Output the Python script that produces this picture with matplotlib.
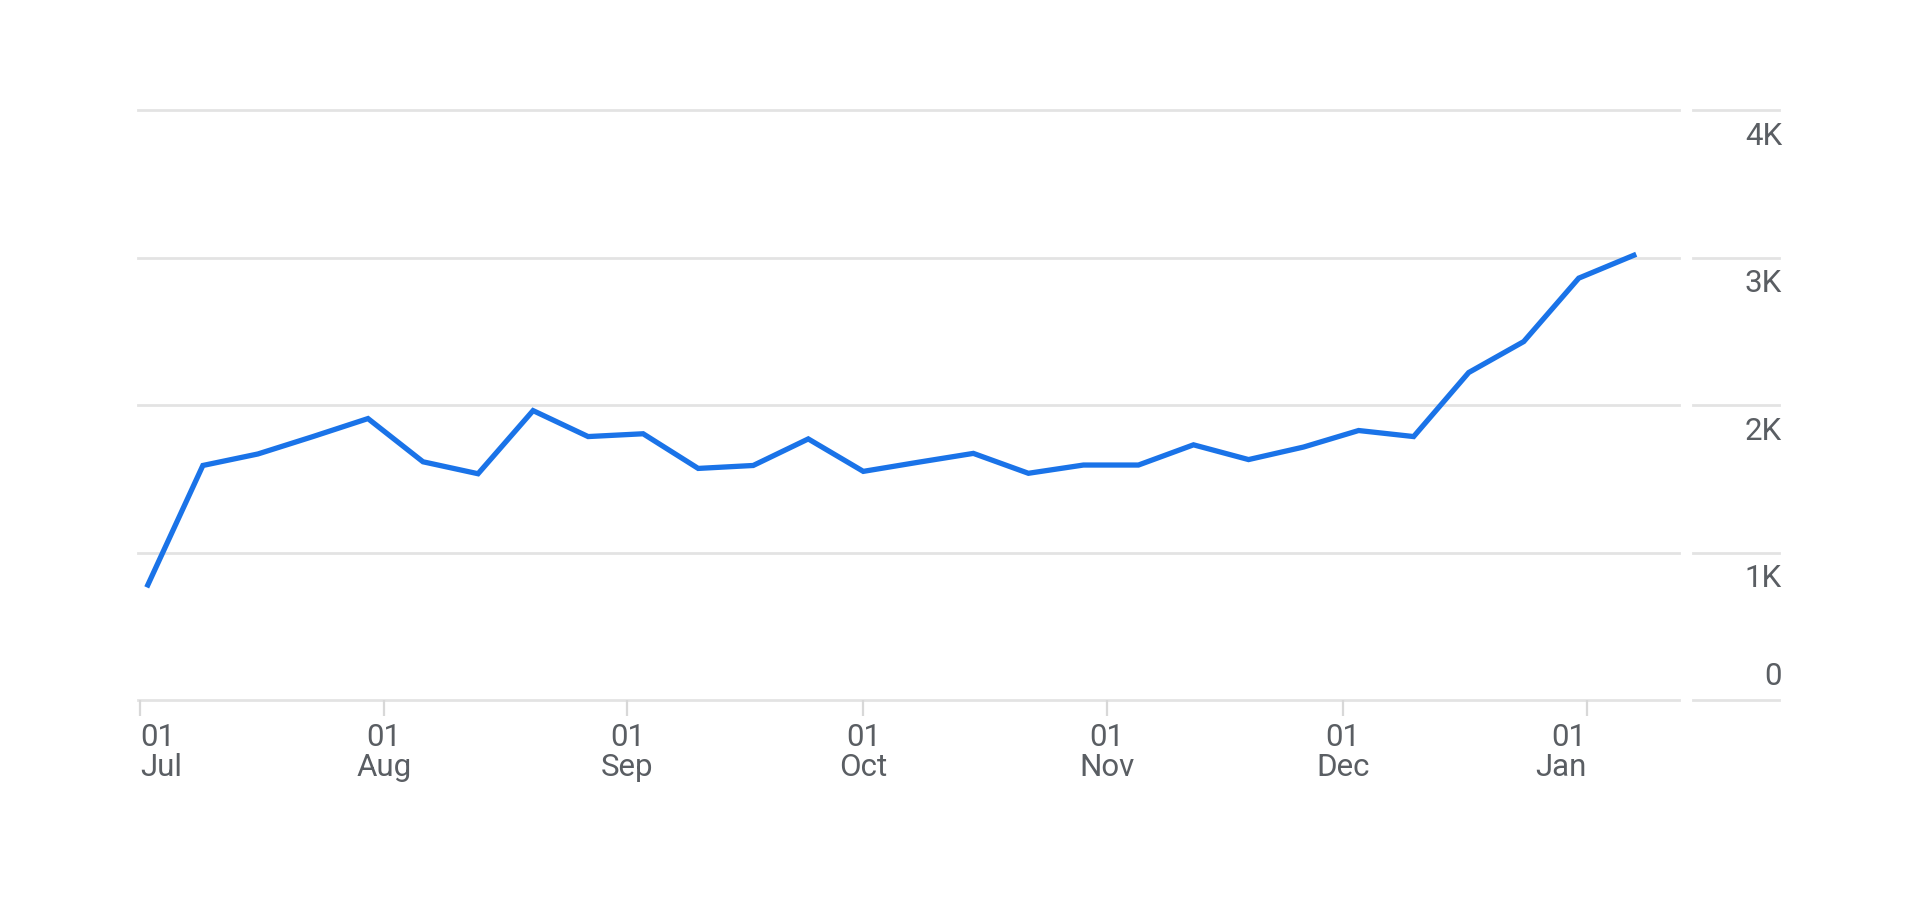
import matplotlib
matplotlib.use("Agg")
import matplotlib.pyplot as plt
import matplotlib.dates as mdates
import matplotlib.transforms as mtrans
import numpy as np
import pandas as pd

# weekly values
weeks = pd.date_range("2023-07-02", periods=28, freq="7D")
values = [780, 1590, 1668, 1786, 1908, 1615, 1534, 1962, 1786, 1805,
          1570, 1590, 1770, 1550, 1612, 1672, 1537, 1593, 1593, 1730,
          1630, 1715, 1827, 1786, 2220, 2430, 2860, 3015]

tick_dates = pd.to_datetime(["2023-07-01", "2023-08-01", "2023-09-01", "2023-10-01",
                             "2023-11-01", "2023-12-01", "2024-01-01"])
tick_labels = ["01\nJul", "01\nAug", "01\nSep", "01\nOct", "01\nNov", "01\nDec", "01\nJan"]
y_ticks = [0, 1000, 2000, 3000, 4000]
y_labels = ["0", "1K", "2K", "3K", "4K"]

plt.rcParams["font.family"] = ["Roboto", "DejaVu Sans"]
GRID = "#e3e3e3"
TXT = "#5a5e63"
BLUE = "#1a73e8"

W, H = 1920, 913
fig = plt.figure(figsize=(W / 100, H / 100), dpi=100)
ax = fig.add_axes([138 / W, (H - 700) / H, (1679 - 138) / W, (700 - 110) / H])

ax.plot(weeks, values, color=BLUE, linewidth=3.8, solid_joinstyle="miter", zorder=3)

ax.set_ylim(0, 4000)
ax.set_xlim(pd.Timestamp("2023-07-01") - pd.Timedelta(hours=6),
            pd.Timestamp("2024-01-12 18:00"))

for s in ax.spines.values():
    s.set_visible(False)

# gridlines, plus the short detached segment beside the value labels
blend = mtrans.blended_transform_factory(fig.transFigure, ax.transData)
for yv, lab in zip(y_ticks, y_labels):
    ax.axhline(yv, color=GRID, linewidth=2.0, zorder=1, clip_on=False)
    ax.plot([1693 / W, 1779 / W], [yv, yv], transform=blend, color=GRID,
            linewidth=2.0, clip_on=False)
    dy = 24 if yv == 0 else -26
    off = mtrans.offset_copy(blend, fig=fig, x=0, y=dy * 0.72, units="points")
    ax.text(1782 / W, yv, lab, transform=off, ha="right", va="center",
            fontsize=22.5, color=TXT)

ax.set_yticks([])
ax.set_xticks(tick_dates)
ax.set_xticklabels(tick_labels)
ax.tick_params(axis="x", length=11.5, width=1.6, color="#d8d8d8", pad=5,
               labelsize=22.5, labelcolor=TXT)
tl = ax.get_xticklabels()
for i, t in enumerate(tl):
    t.set_linespacing(1.05)
    if i == 0:
        t.set_ha("left")
    elif i == len(tl) - 1:
        t.set_ha("right")
    else:
        t.set_ha("center")

fig.savefig("out.png", dpi=100, facecolor="white")
